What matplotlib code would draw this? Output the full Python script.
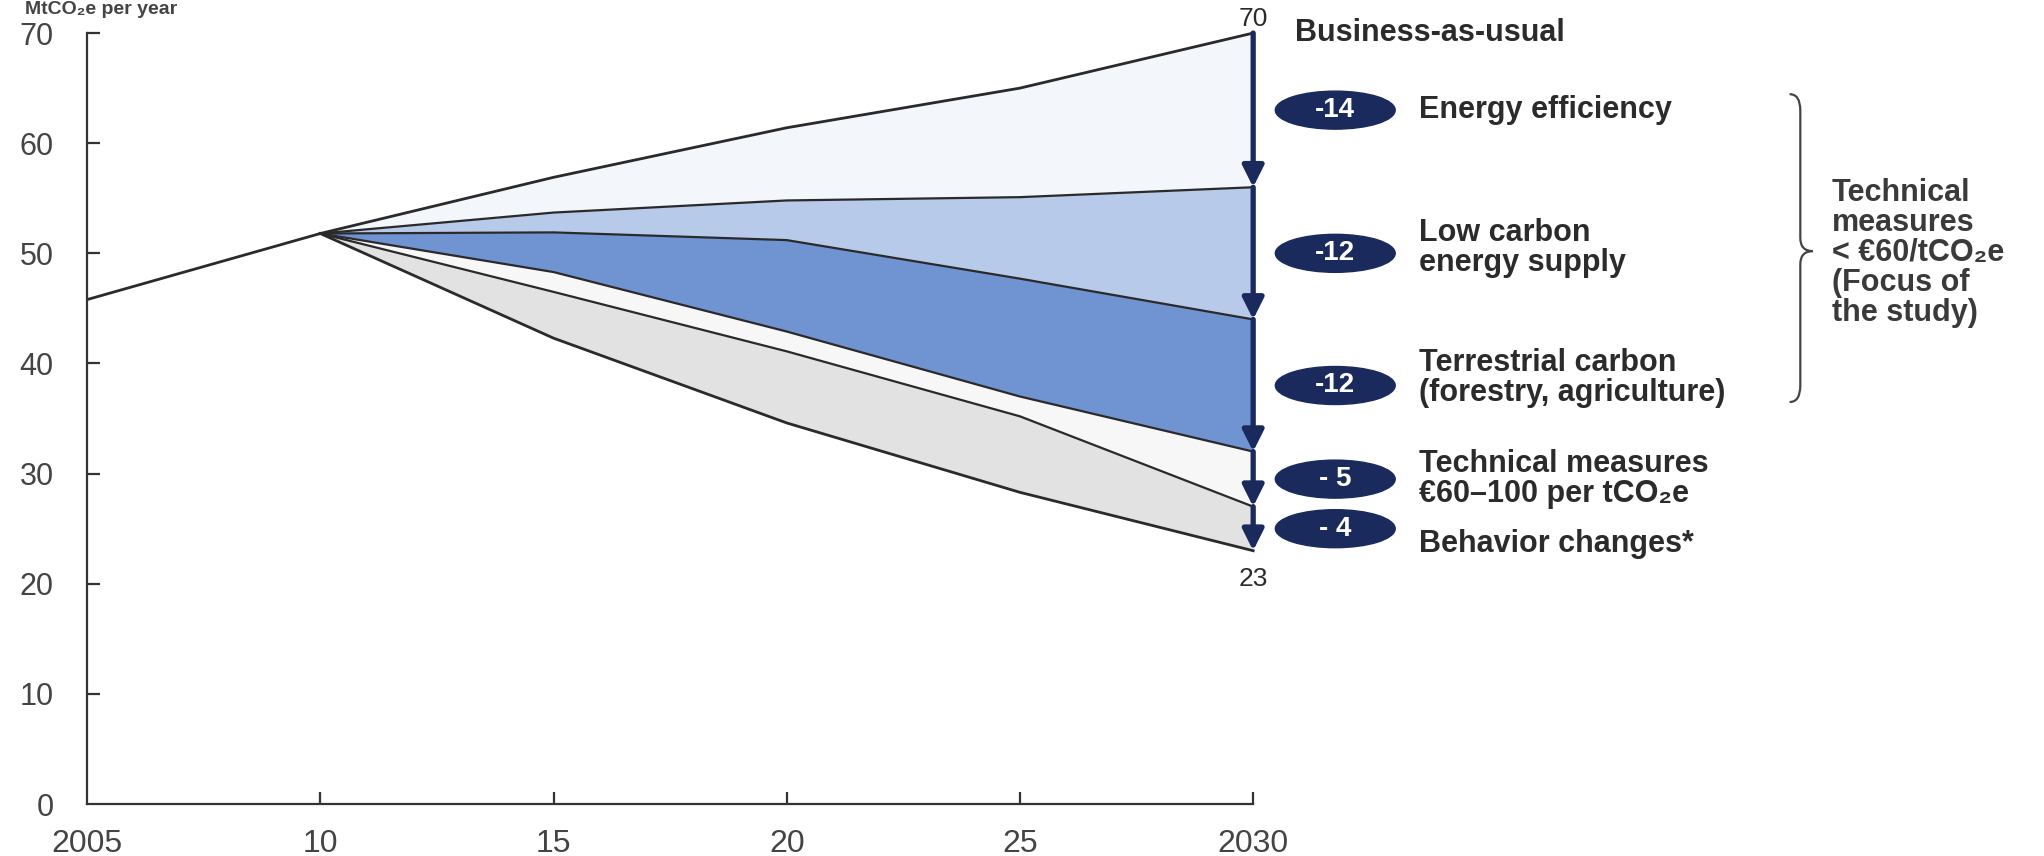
import numpy as np
import matplotlib
matplotlib.use('Agg')
from matplotlib import pyplot as plt
from matplotlib.patches import Ellipse, PathPatch
from matplotlib.path import Path

plt.rcParams['font.family'] = ['Liberation Sans', 'DejaVu Sans']

# data (MtCO2e per year)
hist_years = [2005, 2010]
hist_vals = [45.8, 51.8]
years = [2010, 2015, 2020, 2025, 2030]
bau = [51.8, 56.9, 61.4, 65.0, 70.0]
after_efficiency = [51.8, 53.7, 54.8, 55.1, 56.0]
after_low_carbon = [51.8, 51.9, 51.2, 47.7, 44.0]
after_terrestrial = [51.8, 48.3, 42.9, 37.0, 32.0]
after_tech_60_100 = [51.8, 46.5, 41.1, 35.2, 27.0]
after_behavior = [51.8, 42.3, 34.6, 28.3, 23.0]

reductions = ['-14', '-12', '-12', '- 5', '- 4']
labels = ['Energy efficiency', 'Low carbon\nenergy supply',
          'Terrestrial carbon\n(forestry, agriculture)',
          'Technical measures\n€60–100 per tCO₂e', 'Behavior changes*']
stops = [70, 56, 44, 32, 27, 23]
xticks = [2005, 2010, 2015, 2020, 2025, 2030]
xticklabels = ['2005', '10', '15', '20', '25', '2030']
yticks = [0, 10, 20, 30, 40, 50, 60, 70]

navy = '#1b2a5c'
txt = '#2b2b2b'
line_c = '#2a2a2a'

fig = plt.figure(figsize=(20.44, 8.56), dpi=100)
ax = fig.add_axes([0.0426, 0.0607, 0.5705, 0.9007])

bands = [bau, after_efficiency, after_low_carbon, after_terrestrial,
         after_tech_60_100, after_behavior]
fills = ['#f3f6fa', '#b7caea', '#7093d2', '#f7f7f7', '#e2e2e2']
for i in range(5):
    ax.fill_between(years, bands[i], bands[i + 1], color=fills[i], lw=0, clip_on=False)
for i, b in enumerate(bands):
    ax.plot(years, b, color=line_c, lw=2.0 if i in (0, 5) else 1.6, clip_on=False,
            solid_joinstyle='round')
ax.plot(hist_years, hist_vals, color=line_c, lw=2.0)

ax.set_xlim(2005, 2030)
ax.set_ylim(0, 70)
ax.spines['top'].set_visible(False)
ax.spines['right'].set_visible(False)
for s in ['left', 'bottom']:
    ax.spines[s].set_linewidth(1.6)
    ax.spines[s].set_color('#333333')
ax.set_xticks(xticks)
ax.set_xticklabels(xticklabels)
ax.set_yticks(yticks)
ax.tick_params(axis='y', direction='in', length=9, width=1.6, labelsize=22,
               pad=24, colors='#333333', labelcolor='#444444')
ax.tick_params(axis='x', direction='in', length=9, width=1.6, labelsize=23,
               pad=18, colors='#333333', labelcolor='#444444')
ax.yaxis.get_major_ticks()[0].tick1line.set_visible(False)
ax.xaxis.get_major_ticks()[0].tick1line.set_visible(False)

# arrows at 2030
for a, b in zip(stops[:-1], stops[1:]):
    ax.annotate('', xy=(2030, b), xytext=(2030, a),
                arrowprops=dict(arrowstyle='-|>', lw=3.8, color=navy,
                                mutation_scale=32, shrinkA=0, shrinkB=0),
                annotation_clip=False)

ax.text(2030, 71.3, '70', ha='center', va='center', fontsize=19, color=txt, clip_on=False)
ax.text(2030, 20.4, '23', ha='center', va='center', fontsize=19, color=txt, clip_on=False)
ax.text(2030.9, 70, 'Business-as-usual', ha='left', va='center', fontsize=22,
        fontweight='bold', color=txt, clip_on=False)

offsets = [0.0, 0.5, 0.7, 0.0, -1.4]
for k in range(5):
    mid = (stops[k] + stops[k + 1]) / 2
    ax.add_patch(Ellipse((2031.76, mid), 2.57, 3.45, color=navy, clip_on=False))
    ax.text(2031.76, mid, reductions[k], ha='center', va='center', fontsize=20,
            fontweight='bold', color='white', clip_on=False)
    ax.text(2033.55, mid + offsets[k], labels[k], ha='left', va='center', fontsize=22,
            fontweight='bold', color=txt, linespacing=1.0, clip_on=False)

# curly brace
xb, xc, xh = 2041.73, 2042.0, 2041.5
top, cusp, bot = 64.45, 50.2, 36.5
codes = [Path.MOVETO, Path.CURVE3, Path.CURVE3, Path.LINETO,
         Path.CURVE3, Path.CURVE3, Path.CURVE3, Path.CURVE3,
         Path.LINETO, Path.CURVE3, Path.CURVE3]
verts = [(xh, top), (xb, top), (xb, top - 1.5),
         (xb, cusp + 1.2),
         (xb, cusp), (xc, cusp),
         (xb, cusp), (xb, cusp - 1.2),
         (xb, bot + 1.5),
         (xb, bot), (xh, bot)]
ax.add_patch(PathPatch(Path(verts, codes), fill=False, lw=1.6, edgecolor='#444444',
                       clip_on=False))

ax.text(2042.4, 50.0, 'Technical\nmeasures\n< €60/tCO₂e\n(Focus of\nthe study)',
        ha='left', va='center', fontsize=22, fontweight='bold', color='#3a3a3a',
        linespacing=1.0, clip_on=False)

fig.text(25 / 2044, 1 - 1 / 856, 'MtCO₂e per year', ha='left', va='top',
         fontsize=14, fontweight='bold', color='#444444')

fig.savefig('out.png', dpi=100)
